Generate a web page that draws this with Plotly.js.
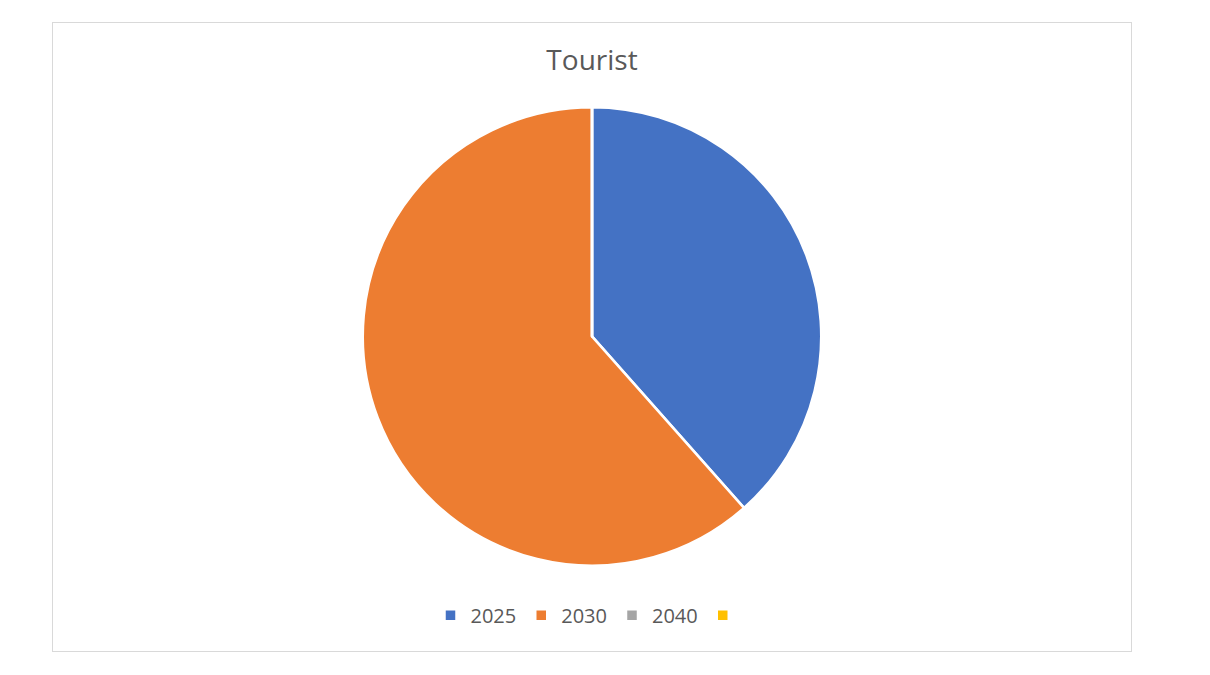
<!DOCTYPE html>
<html>
<head>
<meta charset="utf-8">
<script src="https://cdn.plot.ly/plotly-3.0.1.min.js"></script>
<style>
  body { margin: 0; background: #fff; }
  #chart { position: absolute; left: 52px; top: 22px; width: 1080px; height: 630px; border: 1px solid #d9d9d9; box-sizing: border-box; }
</style>
</head>
<body>
<div id="chart"></div>
<script>
var years = ['2025', '2030', '2040', ' '];
var tourists = [5, 8, 0, 0];
var colors = ['#4472c4', '#ed7d31', '#a5a5a5', '#ffc000'];

var data = [{
  type: 'pie',
  labels: years,
  values: tourists,
  sort: false,
  direction: 'clockwise',
  rotation: 0,
  textinfo: 'none',
  hoverinfo: 'label+value',
  marker: { colors: colors, line: { color: '#ffffff', width: 2.5 } },
  domain: { x: [0, 1], y: [0.136, 0.866] }
}];

var layout = {
  width: 1078,
  height: 628,
  margin: { l: 0, r: 0, t: 0, b: 0 },
  paper_bgcolor: '#ffffff',
  font: { family: 'Open Sans, sans-serif', color: '#595959' },
  title: { text: 'Tourist', font: { size: 28, color: '#595959' }, x: 0.5, xanchor: 'center', y: 0.94, yanchor: 'middle' },
  showlegend: true,
  legend: { orientation: 'h', x: 0.5, xanchor: 'center', y: 0.057, yanchor: 'middle', font: { size: 20, color: '#595959' }, itemwidth: 30 }
};

Plotly.newPlot('chart', data, layout, { displayModeBar: false });
</script>
</body>
</html>
